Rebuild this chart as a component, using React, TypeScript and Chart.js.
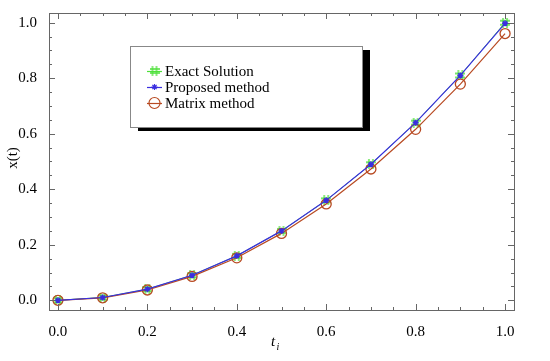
import React, { useEffect, useRef } from 'react';
import { Chart, registerables } from 'chart.js';
Chart.register(...registerables);

const tValues = [0, 0.1, 0.2, 0.3, 0.4, 0.5, 0.6, 0.7, 0.8, 0.9, 1.0];
const exactValues = [0, 0.01, 0.04, 0.09, 0.16, 0.25, 0.36, 0.49, 0.64, 0.81, 1.0];
const proposedValues = [0, 0.01, 0.04, 0.09, 0.16, 0.25, 0.36, 0.49, 0.64, 0.81, 0.998];
const matrixValues = [0, 0.009, 0.037, 0.086, 0.153, 0.241, 0.347, 0.473, 0.616, 0.779, 0.961];
const xTickValues = [0, 0.2, 0.4, 0.6, 0.8, 1.0];
const yTickValues = [0, 0.2, 0.4, 0.6, 0.8, 1.0];
const seriesNames = ['Exact Solution', 'Proposed method', 'Matrix method'];

const GREEN = '#4ee03a';
const BLUE = '#3a2ee0';
const BROWN = '#b84a22';
const SERIF = '"Liberation Serif", "Times New Roman", serif';

function makeHash(color: string, size: number) {
  const c = document.createElement('canvas');
  c.width = size;
  c.height = size;
  const g = c.getContext('2d')!;
  g.strokeStyle = color;
  g.lineWidth = 1.3;
  const a = size * 0.3, b = size * 0.7;
  g.beginPath();
  g.moveTo(a, 0); g.lineTo(a, size);
  g.moveTo(b, 0); g.lineTo(b, size);
  g.moveTo(0, a); g.lineTo(size, a);
  g.moveTo(0, b); g.lineTo(size, b);
  g.stroke();
  return c;
}

const framePlugin = {
  id: 'frameTicks',
  afterDraw(chart: any) {
    const { ctx, chartArea } = chart;
    const { left, right, top, bottom } = chartArea;
    const xs = chart.scales.x;
    const ys = chart.scales.y;
    ctx.save();
    ctx.strokeStyle = '#666';
    ctx.lineWidth = 1;
    ctx.strokeRect(Math.round(left) + 0.5, Math.round(top) + 0.5, Math.round(right - left), Math.round(bottom - top));
    ctx.beginPath();
    for (let i = 0; i <= 20; i++) {
      const v = i * 0.05;
      const len = i % 4 === 0 ? 6 : 3;
      const px = Math.round(xs.getPixelForValue(v)) + 0.5;
      ctx.moveTo(px, bottom); ctx.lineTo(px, bottom - len);
      ctx.moveTo(px, top); ctx.lineTo(px, top + len);
      const py = Math.round(ys.getPixelForValue(v)) + 0.5;
      ctx.moveTo(left, py); ctx.lineTo(left + len, py);
      ctx.moveTo(right, py); ctx.lineTo(right - len, py);
    }
    ctx.stroke();

    // axis titles
    ctx.fillStyle = '#000';
    ctx.font = `15px ${SERIF}`;
    ctx.textAlign = 'center';
    ctx.textBaseline = 'middle';
    ctx.save();
    ctx.translate(13, 158);
    ctx.rotate(-Math.PI / 2);
    ctx.fillText('x(t)', 0, 0);
    ctx.restore();
    ctx.font = `italic 15px ${SERIF}`;
    ctx.textAlign = 'left';
    ctx.fillText('t', 271, 342);
    ctx.font = `italic 10px ${SERIF}`;
    ctx.fillText('i', 276.5, 347);

    // legend
    const lx = 130, ly = 46, lw = 232, lh = 81;
    ctx.fillStyle = '#000';
    ctx.fillRect(lx + 8, ly + 4, lw, lh);
    ctx.fillStyle = '#fff';
    ctx.fillRect(lx, ly, lw, lh);
    ctx.strokeStyle = '#888';
    ctx.strokeRect(lx + 0.5, ly + 0.5, lw, lh);
    const rows = [71, 87, 103];
    chart.data.datasets.forEach((ds: any, i: number) => {
      const y = rows[i];
      ctx.strokeStyle = ds.borderColor;
      ctx.lineWidth = 1.2;
      ctx.beginPath();
      ctx.moveTo(147, y + 0.5); ctx.lineTo(162, y + 0.5);
      ctx.stroke();
      if (i === 0) {
        ctx.drawImage(hashImg, 154.5 - 5, y - 5);
      } else if (i === 1) {
        ctx.beginPath();
        for (let k = 0; k < 4; k++) {
          const ang = (k * Math.PI) / 4;
          ctx.moveTo(154.5 - 3 * Math.cos(ang), y - 3 * Math.sin(ang));
          ctx.lineTo(154.5 + 3 * Math.cos(ang), y + 3 * Math.sin(ang));
        }
        ctx.stroke();
      } else {
        ctx.beginPath();
        ctx.arc(154.5, y, 5.5, 0, Math.PI * 2);
        ctx.stroke();
      }
      ctx.fillStyle = '#000';
      ctx.font = `15px ${SERIF}`;
      ctx.textAlign = 'left';
      ctx.textBaseline = 'middle';
      ctx.fillText(seriesNames[i], 165, y + 1);
    });
    ctx.restore();
  },
};

let hashImg: HTMLCanvasElement;

export default function App() {
  const ref = useRef<HTMLCanvasElement>(null);
  useEffect(() => {
    hashImg = makeHash(GREEN, 10);
    const chart = new Chart(ref.current!, {
      type: 'line',
      data: {
        labels: tValues,
        datasets: [
          {
            label: seriesNames[0],
            data: tValues.map((t, i) => ({ x: t, y: exactValues[i] })),
            borderColor: GREEN,
            borderWidth: 1,
            pointStyle: hashImg,
            order: 2,
          },
          {
            label: seriesNames[1],
            data: tValues.map((t, i) => ({ x: t, y: proposedValues[i] })),
            borderColor: BLUE,
            backgroundColor: BLUE,
            borderWidth: 1.2,
            pointStyle: 'star',
            pointRadius: 3,
            pointBorderWidth: 1.4,
            order: 0,
          },
          {
            label: seriesNames[2],
            data: tValues.map((t, i) => ({ x: t, y: matrixValues[i] })),
            borderColor: BROWN,
            backgroundColor: 'rgba(0,0,0,0)',
            borderWidth: 1.2,
            pointStyle: 'circle',
            pointRadius: 5,
            pointBorderWidth: 1.3,
            order: 1,
          },
        ],
      },
      options: {
        responsive: false,
        animation: false,
        layout: { padding: { top: 6, right: 36, left: 0, bottom: 0 } },
        plugins: { legend: { display: false }, tooltip: { enabled: false } },
        scales: {
          x: {
            type: 'linear',
            min: -0.02,
            max: 1.02,
            grid: { display: false },
            border: { display: false },
            afterBuildTicks: (s: any) => { s.ticks = xTickValues.map((v) => ({ value: v })); },
            afterFit: (s: any) => { s.height = 51; },
            ticks: {
              padding: 5,
              color: '#000',
              font: { family: SERIF, size: 15 },
              maxRotation: 0,
              callback: (v: any) => Number(v).toFixed(1),
            },
          },
          y: {
            type: 'linear',
            min: -0.035,
            max: 1.035,
            grid: { display: false },
            border: { display: false },
            afterBuildTicks: (s: any) => { s.ticks = yTickValues.map((v) => ({ value: v })); },
            afterFit: (s: any) => { s.width = 49; },
            ticks: {
              padding: 4,
              color: '#000',
              font: { family: SERIF, size: 15 },
              callback: (v: any) => Number(v).toFixed(1),
            },
          },
        },
      },
      plugins: [framePlugin],
    });
    return () => chart.destroy();
  }, []);
  return (
    <div style={{ position: 'absolute', left: 0, top: 0, width: 550, height: 361, background: '#fff' }}>
      <canvas ref={ref} width={550} height={361} style={{ display: 'block' }} />
    </div>
  );
}
